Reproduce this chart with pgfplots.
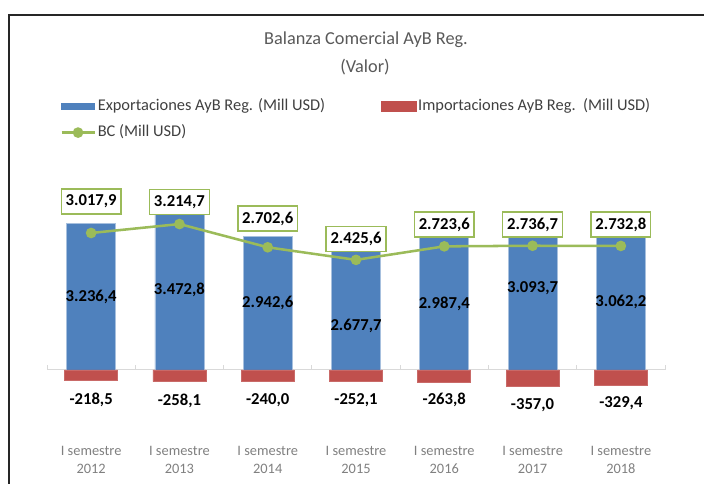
\documentclass[border=0pt]{standalone}
\usepackage{fontspec}
\setmainfont{Carlito}
\usepackage{pgfplots}
\usepackage{pgfplotstable}
\pgfplotsset{compat=1.18}
\definecolor{cblue}{HTML}{4F81BD}
\definecolor{cblueedge}{HTML}{A7C0DE}
\definecolor{cred}{HTML}{C0504D}
\definecolor{cgreen}{HTML}{9BBB59}
\definecolor{ctitle}{HTML}{595959}
\definecolor{ctext}{HTML}{404040}
\definecolor{ctick}{HTML}{808080}
\definecolor{caxis}{HTML}{D9D9D9}

\pgfplotstableread{
x y
0 3236.4
1 3472.8
2 2942.6
3 2677.7
4 2987.4
5 3093.7
6 3062.2
}\exports
\pgfplotstableread{
x y
0 -218.5
1 -258.1
2 -240.0
3 -252.1
4 -263.8
5 -357.0
6 -329.4
}\imports
\pgfplotstableread{
x y
0 3017.9
1 3214.7
2 2702.6
3 2425.6
4 2723.6
5 2736.7
6 2732.8
}\bc
% label positions (data units) and texts
\pgfplotstableread{
x y lab
0 1608 3.236,4
1 1762 3.472,8
2 1476 2.942,6
3 969 2.677,7
4 1454 2.987,4
5 1806 3.093,7
6 1498 3.062,2
}\explab
\pgfplotstableread{
x y lab
0 -661 -218,5
1 -683 -258,1
2 -661 -240,0
3 -661 -252,1
4 -661 -263,8
5 -771 -357,0
6 -727 -329,4
}\implab
\pgfplotstableread{
x y lab
0 3711 3.017,9
1 3700 3.214,7
2 3337 2.702,6
3 2885 2.425,6
4 3205 2.723,6
5 3205 2.736,7
6 3205 2.732,8
}\bclab

\begin{document}
\begin{tikzpicture}[x=0.75pt,y=-0.75pt]
\path[use as bounding box] (0,0) rectangle (704,484);
\draw[line width=1.1pt, black!85] (9,484) -- (9,15) -- (704,15);
\node[font=\fontsize{13.7}{16}\selectfont, text=ctitle, inner sep=0pt] at (366,40) {Balanza Comercial AyB Reg.};
\node[font=\fontsize{13.7}{16}\selectfont, text=ctitle, inner sep=0pt] at (365,67) {(Valor)};
\begin{axis}[
  at={(35.25pt,-297.93pt)}, anchor=south west,
  scale only axis, width=463.5pt, height=156.63pt,
  xmin=-0.5, xmax=6.5, ymin=-600, ymax=4000,
  clip=false,
  hide y axis,
  axis x line*=bottom,
  x axis line style={draw=none},
  major tick length=0pt,
  xtick={0,1,2,3,4,5,6},
  xticklabels={{I semestre\\2012},{I semestre\\2013},{I semestre\\2014},{I semestre\\2015},{I semestre\\2016},{I semestre\\2017},{I semestre\\2018}},
  xticklabel style={align=center, text=ctick, font=\fontsize{10.8}{13.5}\selectfont, yshift=-33pt},
  legend style={at={(0.021,1.4377)}, anchor=north west, draw=none, fill=none,
    inner sep=0pt, legend columns=2, font=\fontsize{12.3}{14}\selectfont,
    text=ctext, row sep=5.5pt,
    nodes={inner sep=1.5pt, text height=8.5pt, text depth=2.5pt},
    /tikz/every even column/.append style={column sep=40pt}},
  legend cell align=left,
]
\draw[caxis, line width=0.75pt] (axis cs:-0.5,0) -- (axis cs:6.5,0);
\pgfplotsinvokeforeach{-0.5,0.5,1.5,2.5,3.5,4.5,5.5,6.5}{
  \draw[caxis, line width=0.75pt] (axis cs:#1,0) -- ++(0pt,4pt);
}
\addplot[ybar, bar width=0.555, bar shift=0pt, fill=cblue, draw=cblueedge, line width=0.5pt,
  legend image code/.code={\fill[cblue] (0pt,-2.25pt) rectangle (24.75pt,2.25pt);}]
  table[x=x,y=y] {\exports};
\addlegendentry{Exportaciones AyB Reg. (Mill USD)}
\addplot[ybar, bar width=0.6, bar shift=0pt, fill=cred, draw=cred!85!white, line width=0.5pt,
  legend image code/.code={\fill[cred] (0pt,-3.75pt) rectangle (26.25pt,3.75pt);}]
  table[x=x,y=y] {\imports};
\addlegendentry{Importaciones AyB Reg.\ \ (Mill USD)}
\addplot[cgreen, line width=1.9pt, mark=*, mark size=3pt, mark options={fill=cgreen, draw=cgreen},
  legend image code/.code={\draw[cgreen, line width=1.9pt] (0pt,0pt) -- (24.75pt,0pt); \fill[cgreen] (12.4pt,0pt) circle (3pt);}]
  table[x=x,y=y] {\bc};
\addlegendentry{BC (Mill USD)}
% data labels
\addplot[draw=none, mark=none, forget plot, point meta=explicit symbolic,
  nodes near coords, nodes near coords style={anchor=center, text=black, font=\fontsize{12.5}{14}\bfseries}]
  table[x=x,y=y,meta=lab] {\explab};
\addplot[draw=none, mark=none, forget plot, point meta=explicit symbolic,
  nodes near coords, nodes near coords style={anchor=center, text=black, font=\fontsize{12.5}{14}\bfseries}]
  table[x=x,y=y,meta=lab] {\implab};
\addplot[draw=none, mark=none, forget plot, point meta=explicit symbolic,
  nodes near coords, nodes near coords style={anchor=center, text=black, draw=cgreen, fill=white, line width=1.1pt,
  inner xsep=3.3pt, inner ysep=0pt, minimum height=18.75pt, font=\fontsize{12.5}{14}\bfseries}]
  table[x=x,y=y,meta=lab] {\bclab};
\end{axis}
\end{tikzpicture}
\end{document}
